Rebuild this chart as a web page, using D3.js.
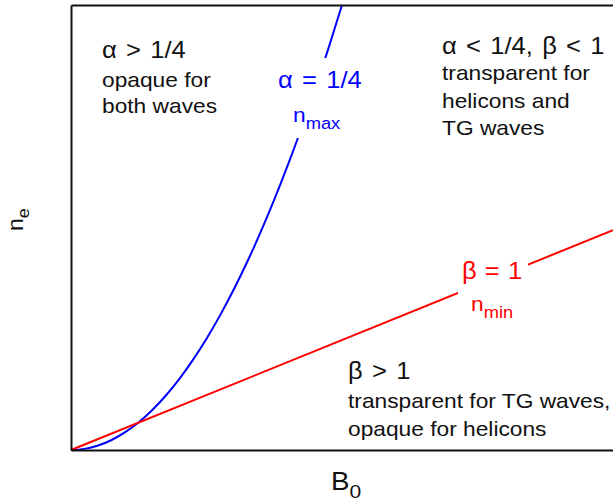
<!DOCTYPE html>
<html>
<head>
<meta charset="utf-8">
<script src="https://cdn.jsdelivr.net/npm/d3@7"></script>
<style>
  html, body { margin: 0; padding: 0; background: #fff; }
  svg { display: block; }
  text { font-family: "Liberation Sans", Arial, sans-serif; }
</style>
</head>
<body>
<svg id="chart" width="613" height="502"></svg>
<script>
// Magnetic field B0 (arbitrary units) and density ne along the two boundaries
const b0Max = [0, 0.25, 0.5, 0.75, 1, 1.25, 1.5, 1.75, 2, 2.25, 2.5, 2.75, 3, 3.25, 3.5, 3.75, 4, 4.25, 4.5, 4.75, 5];
const neMax = [0, 0.025, 0.1, 0.225, 0.4, 0.625, 0.9, 1.225, 1.6, 2.025, 2.5, 3.025, 3.6, 4.225, 4.9, 5.625, 6.4, 7.225, 8.1, 9.025, 10];
const b0Min = [0, 10];
const neMin = [0, 4.94];

const svg = d3.select("#chart");

const x = d3.scaleLinear().domain([0, 10]).range([71, 613]);
const y = d3.scaleLinear().domain([0, 10]).range([450, 5]);

const line = d3.line()
  .x(d => x(d[0]))
  .y(d => y(d[1]))
  .curve(d3.curveMonotoneX);

// boundary curves
svg.append("path")
  .datum(d3.zip(b0Max, neMax))
  .attr("d", line)
  .attr("fill", "none")
  .attr("stroke", "#0000ff")
  .attr("stroke-width", 2);

svg.append("path")
  .datum(d3.zip(b0Min, neMin))
  .attr("d", line)
  .attr("fill", "none")
  .attr("stroke", "#ff0000")
  .attr("stroke-width", 2);

// frame: bottom, top and left axes without ticks (right side runs off the page)
const xWide = x.copy().domain([0, 11]).range([71, 667]);
function styleAxis(g) {
  g.selectAll(".domain").attr("stroke", "#111").attr("stroke-width", 2);
  g.selectAll(".tick").remove();
}
svg.append("g").attr("transform", `translate(0,${y(0)})`)
  .call(d3.axisBottom(xWide).tickValues([]).tickSizeOuter(0)).call(styleAxis);
svg.append("g").attr("transform", `translate(0,${y(10)})`)
  .call(d3.axisTop(xWide).tickValues([]).tickSizeOuter(0)).call(styleAxis);
svg.append("g").attr("transform", `translate(${x(0)},0)`)
  .call(d3.axisLeft(y).tickValues([]).tickSizeOuter(0)).call(styleAxis);

// white boxes so the curve labels sit in a gap of their lines
svg.append("rect").attr("x", 274).attr("y", 58).attr("width", 92).attr("height", 80).attr("fill", "#fff");
svg.append("rect").attr("x", 458).attr("y", 258).attr("width", 70).attr("height", 72).attr("fill", "#fff");

const SX = 1.11;      // slightly wide lettering
const HEAD = 23, BODY = 20.5, WS = 2;

function txt(xp, yp, str, size, color, ws) {
  return svg.append("text")
    .attr("transform", `translate(${xp},${yp}) scale(${SX},1)`)
    .attr("fill", color)
    .attr("font-size", size)
    .attr("word-spacing", ws || 0)
    .text(str);
}

function subTxt(xp, yp, main, sub, size, subSize, color, drop) {
  const t = svg.append("text")
    .attr("transform", `translate(${xp},${yp}) scale(${SX},1)`)
    .attr("fill", color).attr("font-size", size);
  t.append("tspan").text(main);
  t.append("tspan").attr("font-size", subSize).attr("dy", drop).text(sub);
  return t;
}

// region descriptions
const ink = "#111";
txt(102, 58, "α > 1/4", HEAD, ink, WS);
txt(102, 87, "opaque for", BODY, ink);
txt(102, 113, "both waves", BODY, ink);

txt(442, 54, "α < 1/4, β < 1", HEAD, ink, WS);
txt(442, 80, "transparent for", BODY, ink);
txt(442, 108, "helicons and", BODY, ink);
txt(442, 135, "TG waves", BODY, ink);

txt(348, 379, "β > 1", HEAD, ink, WS);
txt(348, 408, "transparent for TG waves,", BODY, ink);
txt(348, 436, "opaque for helicons", BODY, ink);

// boundary labels
txt(278, 88, "α = 1/4", HEAD, "#0000ff", WS);
subTxt(293, 122, "n", "max", 20.5, 16.5, "#0000ff", 7);

txt(462, 279, "β = 1", HEAD, "#ff0000", 1);
subTxt(471, 311, "n", "min", 20.5, 16.5, "#ff0000", 7);

// axis titles
subTxt(331, 490, "B", "0", 25, 19, ink, 8);
const yt = svg.append("text")
  .attr("transform", "translate(23,231) rotate(-90) scale(1.05,1)")
  .attr("fill", ink).attr("font-size", 22);
yt.append("tspan").text("n");
yt.append("tspan").attr("font-size", 17).attr("dy", 6).text("e");
</script>
</body>
</html>
